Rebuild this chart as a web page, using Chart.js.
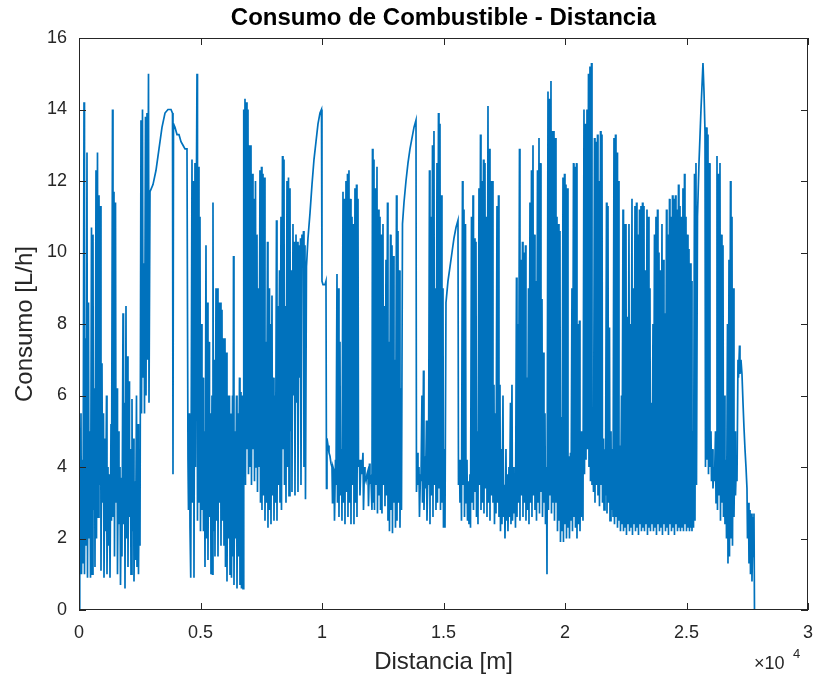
<!DOCTYPE html>
<html lang="es">
<head>
<meta charset="UTF-8">
<title>Consumo de Combustible - Distancia</title>
<script src="https://cdn.jsdelivr.net/npm/chart.js"></script>
<style>
  body { margin: 0; background: #fff; }
  #grafico { display: block; }
</style>
</head>
<body>
<canvas id="grafico" width="813" height="681"></canvas>
<script>
var dist1 = [0,21,41,82,103,144,165,206,226,267,
  288,329,350,391,412,453,473,514,535,576,
  597,638,658,700,720,761,782,823,844,885,
  905,946,967,1008,1029,1070,1090,1132,1152,1193,
  1214,1255,1276,1317,1337,1379,1399,1440,1461,1502,
  1523,1564,1584,1625,1646,1687,1708,1749,1769,1811,
  1831,1872,1893,1934,1955,1996,2016,2058,2078,2119,
  2140,2181,2202,2243,2263,2304,2325,2366,2387,2428,
  2448,2489,2510,2551,2572,2613,2634,2675,2695,2736,
  2757,2798,2819,2860,2881,2922,3045,3169,3292,3415,
  3539,3662,3786,3848,3868,3889,3950,4033,4115,4197,
  4280,4362,4444,4485];
var cons1 = [0,2.5,0.9,5.5,1.0,4.2,1.3,14.2,1.0,7.6,
  1.8,12.8,0.9,8.6,2.0,5.0,0.9,10.7,1.0,10.5,
  2.8,6.2,1.2,12.3,2.0,12.8,2.6,11.6,3.5,11.3,
  1.1,6.9,3.0,5.5,0.9,4.8,2.2,6.0,1.0,4.0,
  1.8,3.8,0.9,5.2,2.5,14.0,2.6,11.7,1.5,11.4,
  3.0,6.2,1.0,5.0,2.4,4.0,0.7,3.7,1.5,8.3,
  2.4,5.8,0.6,8.5,2.0,7.1,1.2,6.4,2.6,4.5,
  1.0,5.9,2.2,4.8,0.8,3.6,1.4,6.0,1.2,5.2,
  1.0,4.5,1.8,13.7,5.5,14.0,6.5,9.7,5.5,13.8,
  6.0,13.9,7.0,15.0,5.8,11.7,11.9,12.3,12.9,13.5,
  13.9,14.0,14.0,13.9,3.8,13.6,13.5,13.3,13.3,13.1,
  13.0,12.9,12.9,4.2];

var dist2 = [4506,4547,4568,4588,4609,4650,4671,4712,4732,4773,
  4794,4835,4856,4876,4917,4938,4979,5000,5041,5061,
  5103,5123,5164,5185,5226,5246,5288,5308,5350,5370,
  5411,5432,5473,5493,5514,5535,5576,5596,5638,5658,
  5699,5720,5761,5781,5823,5843,5884,5905,5946,5967,
  6008,6028,6070,6090,6131,6152,6193,6214,6255,6275,
  6317,6337,6358,6378,6419,6440,6481,6502,6543,6563,
  6605,6625,6666,6687,6728,6749,6769,6790,6831,6851,
  6893,6913,6954,6975,7016,7037,7078,7098,7140,7160,
  7201,7222,7263,7284,7325,7345,7387,7407,7448,7469,
  7510,7530,7572,7592,7633,7654,7695,7716,7757,7777,
  7819,7839,7880,7901,7942,7963,8004,8024,8065,8086,
  8127,8148,8189,8210,8251,8271,8312,8333,8374,8395,
  8436,8457,8498,8518,8559,8580,8621,8642,8683,8703,
  8745,8765,8806,8827,8868,8888,8930,8950,8991,9012,
  9053,9074,9115,9135,9176,9197,9238,9259,9300,9320,
  9361,9423,9506,9588,9670,9753,9835,9917,9979,9999,
  10041,10123,10164,10185,10205];
var cons2 = [2.8,5.5,2.3,4.8,0.9,12.6,3.0,12.0,0.9,12.5,
  4.0,12.3,15.0,2.5,12.4,3.0,11.0,2.2,8.0,2.8,
  6.5,2.2,5.0,1.2,10.2,2.0,8.6,1.4,7.5,2.6,
  5.5,1.0,6.0,1.0,11.4,2.2,7.0,1.5,9.0,2.5,
  9.0,1.5,8.6,3.0,8.6,1.8,8.4,2.5,7.6,1.8,
  7.6,1.2,7.2,0.8,6.0,2.0,6.0,1.0,5.5,0.9,
  6.0,1.5,9.9,0.7,5.0,2.0,6.0,0.6,5.5,1.5,
  6.5,0.7,6.1,0.6,6.0,0.6,14.0,4.0,14.3,3.5,
  14.2,4.5,14.0,3.8,13.0,4.0,13.0,3.5,12.2,4.5,
  11.5,3.6,12.0,4.0,10.5,3.3,9.0,4.0,12.3,3.0,
  12.4,2.8,12.2,3.2,12.1,2.5,7.5,3.0,10.3,2.3,
  9.0,2.8,8.0,2.4,8.8,3.2,6.5,2.5,6.0,3.0,
  10.9,2.5,8.5,3.5,9.5,3.0,11.0,2.8,12.7,4.5,
  12.6,3.5,8.5,3.0,12.0,4.0,12.1,3.2,11.8,5.0,
  9.5,3.3,10.8,6.0,10.3,3.2,10.5,5.8,10.3,3.3,
  10.2,6.5,10.4,3.5,10.5,9.9,10.6,4.0,10.2,3.1,
  9.6,10.4,11.1,11.9,12.6,13.1,13.6,13.9,14.0,9.2,
  9.1,9.1,9.2,3.4,4.8];

var dist3 = [10247,10288,10329,10370,10411,10432,10452,10493,10514,10555,
  10576,10617,10637,10679,10699,10740,10761,10802,10822,10864,
  10884,10925,10946,10987,11007,11049,11069,11110,11131,11172,
  11193,11234,11254,11296,11316,11357,11378,11419,11440,11481,
  11501,11542,11563,11604,11645,11686,11707,11748,11769,11810,
  11851,11892,11913,11954,11974,12016,12057,12077,12098,12139,
  12160,12201,12221,12263,12283,12324,12345,12386,12407,12448,
  12468,12510,12530,12571,12592,12633,12653,12695,12715,12756,
  12777,12818,12839,12880,12900,12942,12962,13003,13024,13065,
  13086,13127,13147,13189,13209,13250,13271,13312,13374,13456,
  13538,13621,13703,13785,13868,13888,13929,13950,13991,14011,
  14052,14073,14114,14135,14176,14197,14238,14258,14299,14320,
  14361,14382,14423,14444,14485,14505,14547,14567,14608,14629,
  14670,14690,14732,14752,14793,14814,14855,14876,14917,14937,
  14979,14999,15040,15061,15102,15184,15267,15349,15431,15514,
  15596];
var cons3 = [4.6,4.4,4.3,4.1,4.0,3.0,4.0,3.9,2.5,4.2,
  3.5,9.4,3.0,9.0,2.6,7.5,3.2,4.5,2.5,11.7,
  3.0,11.5,2.4,12.0,3.3,12.2,2.6,12.3,3.0,11.5,
  2.4,11.0,3.5,10.8,2.4,11.8,3.0,11.9,2.6,11.5,
  4.0,4.2,3.2,4.2,3.8,4.4,2.8,4.0,3.7,3.6,
  3.8,3.9,2.9,4.1,3.6,3.7,2.8,12.9,3.0,12.6,
  2.8,11.8,3.5,12.4,2.7,11.2,3.2,11.0,2.8,10.5,
  2.7,10.8,3.5,8.5,2.9,9.8,3.2,11.4,2.5,7.5,
  2.2,10.5,2.8,10.2,2.15,9.9,3.0,7.0,2.3,11.6,
  2.5,10.6,3.0,9.5,2.3,6.2,2.8,10.8,11.4,12.0,
  12.5,12.9,13.2,13.5,13.7,3.3,4.4,3.5,4.0,2.6,
  3.8,3.6,6.0,3.0,6.7,2.8,4.3,3.4,5.3,2.5,
  4.0,3.5,12.3,2.4,11.0,3.2,13.0,2.6,13.4,3.5,
  9.0,2.8,12.5,3.0,13.9,3.4,13.6,2.8,11.6,3.0,
  9.0,2.3,4.5,2.3,8.6,9.2,9.6,10.0,10.4,10.7,
  10.9];

var dist4 = [15617,15658,15678,15720,15740,15781,15802,15843,15864,15905,
  15926,15967,15987,16028,16049,16090,16111,16152,16172,16214,
  16234,16275,16296,16337,16358,16399,16419,16460,16481,16522,
  16543,16584,16604,16646,16666,16707,16728,16769,16790,16831,
  16851,16892,16913,16954,16975,17016,17036,17077,17098,17139,
  17160,17201,17221,17263,17283,17324,17345,17386,17406,17448,
  17468,17509,17530,17571,17592,17633,17653,17695,17715,17756,
  17777,17818,17839,17880,17900,17942,17962,18003,18024,18065,
  18086,18127,18147,18189,18209,18250,18271,18312,18333,18374,
  18394,18436,18456,18497,18518,18559,18580,18621,18641,18683,
  18703,18744,18765,18806,18827,18868,18888,18930,18950,18991,
  19012,19053,19074,19115,19135,19176,19197,19238,19259,19300,
  19320,19361,19382,19423,19444,19485,19505,19547,19567,19608,
  19629,19670,19691,19732,19752,19793,19814];
var cons4 = [3.5,4.2,3.0,4.0,2.5,12.0,3.5,11.2,2.6,10.8,
  3.0,4.2,2.5,3.6,2.4,3.8,2.3,11.0,3.0,11.6,
  2.8,10.4,3.3,10.3,2.6,5.0,2.4,11.8,3.5,13.3,
  2.8,12.0,3.0,12.6,2.7,12.5,3.4,11.0,2.6,14.1,
  3.0,12.9,2.5,12.0,3.2,12.0,3.0,6.3,2.4,5.5,
  2.7,11.3,3.0,11.6,2.6,6.3,2.2,4.5,2.4,6.0,
  2.6,3.5,2.0,4.5,2.5,3.8,2.2,4.0,2.6,5.8,
  2.4,6.3,2.5,4.0,2.7,3.5,2.3,9.3,2.6,8.0,
  3.0,12.9,2.5,9.8,3.2,10.3,2.6,10.0,3.0,10.2,
  2.5,6.5,2.8,9.0,2.4,11.4,3.0,12.3,2.6,13.0,
  3.2,10.5,2.8,9.2,2.5,12.3,3.0,13.2,2.7,12.5,
  3.3,8.7,2.6,7.2,3.0,5.5,2.4,4.0,1.0,14.5,
  2.8,14.3,3.2,14.8,2.7,13.4,3.0,13.4,2.5,13.2,
  3.0,11.0,2.2,10.8,2.5,10.6,1.9];

var dist5 = [19855,19876,19917,19937,19979,19999,20040,20061,20102,20123,
  20164,20184,20226,20246,20287,20308,20349,20370,20411,20431,
  20473,20493,20534,20555,20596,20617,20658,20678,20720,20740,
  20781,20802,20843,20864,20905,20925,20967,20987,21028,21049,
  21090,21111,21152,21172,21214,21234,21275,21296,21337,21358,
  21399,21419,21461,21481,21522,21543,21584,21605,21646,21666,
  21708,21728,21769,21790,21831,21852,21893,21913,21955,21975,
  22016,22037,22078,22098,22140,22160,22201,22222,22263,22284,
  22325,22345,22387,22407,22448,22469,22510,22530,22572,22592,
  22633,22654,22695,22715,22757,22777,22818,22839,22880,22901,
  22942,22962,23004,23024,23065,23086,23127,23147,23189,23209,
  23250,23271,23312,23332,23374,23394,23435,23456,23497,23518,
  23559,23579,23621,23641,23682,23703,23744,23765,23806,23826,
  23868,23888,23929,23950,23991,24011,24053,24073,24114,24135,
  24176,24197,24238,24258,24300,24320,24361,24382,24423,24444,
  24485,24505,24547,24567,24608,24629,24670,24690,24732,24752,
  24793,24814,24855,24876,24917,24937,24979,24999,25040,25061,
  25102,25123,25164,25184,25205,25226];
var cons5 = [5.4,2.2,12.1,1.9,12.2,2.4,11.9,2.0,11.8,2.3,
  4.3,2.0,4.4,2.5,9.0,2.2,12.5,2.6,12.4,2.3,
  12.5,2.0,8.0,2.4,8.1,2.2,5.0,2.6,5.0,2.5,
  14.0,3.8,13.6,4.2,14.0,4.5,15.0,4.0,15.2,3.6,
  15.3,3.5,4.5,3.3,13.2,3.0,13.1,3.5,13.3,3.2,
  12.0,2.9,13.4,3.5,13.3,3.0,4.8,2.8,4.5,3.2,
  11.4,2.7,11.3,3.0,7.9,2.5,5.0,2.8,4.5,2.6,
  13.2,2.4,13.3,2.6,12.8,2.3,12.0,2.5,4.6,2.2,
  6.0,2.4,11.2,2.2,10.8,2.3,10.8,2.1,8.2,2.4,
  10.8,2.2,8.0,2.3,11.5,2.1,9.0,2.4,11.3,2.2,
  11.4,2.3,10.5,2.1,11.2,2.4,11.3,2.2,11.4,2.3,
  11.3,2.2,9.5,2.4,11.2,2.1,11.0,2.3,9.0,2.2,
  5.8,2.4,8.0,2.2,10.5,2.3,11.0,2.1,11.2,2.4,
  10.0,2.2,9.5,2.3,10.8,2.1,9.8,2.4,8.3,2.2,
  11.2,2.3,10.5,2.1,11.5,2.4,11.0,2.2,11.6,2.3,
  11.5,2.1,11.6,2.4,11.2,2.2,11.9,2.3,11.3,2.2,
  11.0,2.3,11.8,2.2,12.2,2.4,11.0,2.2,10.5,2.3,
  10.1,2.2,9.7,2.3,9.2,2.2];

var dist6 = [25267,25288,25329,25349,25390,25411,25452,25514,25596,25678,
  25720,25761,25781,25823,25843,25884,25905,25946,25967,26008,
  26028,26070,26090,26131,26152,26193,26214,26255,26275,26317,
  26337,26378,26399,26440,26460,26502,26522,26563,26584,26625,
  26646,26687,26707,26749,26769,26810,26831,26872,26893,26934,
  26954,26996,27016,27057,27078,27119,27139,27181,27201,27242,
  27283,27325,27366,27407,27448,27489,27510,27551,27572,27613,
  27633,27674,27695,27736,27757,27777,27798];
var cons6 = [5.0,2.3,12.2,2.5,12.5,3.5,11.0,12.5,14.0,15.3,
  14.5,13.4,4.0,13.5,4.2,13.3,3.8,12.5,4.0,5.0,
  3.6,4.5,3.4,4.0,3.6,5.0,3.0,12.7,2.8,12.2,
  3.2,12.5,2.5,10.5,3.0,10.2,2.6,6.0,2.4,4.2,
  2.0,8.0,1.3,9.8,1.5,12.0,2.0,11.0,1.8,9.0,
  2.6,5.0,3.2,4.2,3.6,7.0,6.5,7.4,6.6,7.0,
  6.6,5.8,5.1,4.5,4.0,3.4,2.0,3.0,1.3,2.8,
  1.0,2.7,0.8,2.6,1.5,2.7,0];

var xTicks = [0, 5000, 10000, 15000, 20000, 25000, 30000];
var yTicks = [0, 2, 4, 6, 8, 10, 12, 14, 16];

var titulo = 'Consumo de Combustible - Distancia';
var fuente = '"Liberation Sans", Arial, Helvetica, sans-serif';
var gris = '#262626';

var tramos = [[dist1, cons1], [dist2, cons2], [dist3, cons3],
              [dist4, cons4], [dist5, cons5], [dist6, cons6]];
var puntos = [];
tramos.forEach(function (t) {
    t[0].forEach(function (d, i) { puntos.push({ x: d, y: t[1][i] }); });
});

// caja tipo matlab: marco completo, marcas hacia dentro, titulo centrado en los ejes y el x10^4
var marco = {
    id: 'marco',
    afterDraw: function (chart) {
        var ctx = chart.ctx, a = chart.chartArea;
        var sx = chart.scales.x, sy = chart.scales.y;
        var len = 7;
        ctx.save();
        ctx.strokeStyle = gris;
        ctx.lineWidth = 1;
        ctx.beginPath();
        xTicks.forEach(function (v) {
            var px = Math.round(sx.getPixelForValue(v)) + 0.5;
            ctx.moveTo(px, a.bottom); ctx.lineTo(px, a.bottom - len);
            ctx.moveTo(px, a.top); ctx.lineTo(px, a.top + len);
        });
        yTicks.forEach(function (v) {
            var py = Math.round(sy.getPixelForValue(v)) + 0.5;
            ctx.moveTo(a.left, py); ctx.lineTo(a.left + len, py);
            ctx.moveTo(a.right, py); ctx.lineTo(a.right - len, py);
        });
        ctx.stroke();
        ctx.strokeRect(Math.round(a.left) + 0.5, Math.round(a.top) + 0.5,
                       Math.round(a.width) - 1, Math.round(a.height) - 1);

        ctx.fillStyle = '#000';
        ctx.textAlign = 'center';
        ctx.textBaseline = 'middle';
        ctx.font = 'bold 24px ' + fuente;
        ctx.fillText(titulo, (a.left + a.right) / 2, 18);

        ctx.fillStyle = gris;
        ctx.textBaseline = 'alphabetic';
        ctx.textAlign = 'left';
        ctx.font = '18px ' + fuente;
        var base = a.bottom + 59;
        ctx.fillText('\u00d710', a.right - 54, base);
        ctx.font = '13px ' + fuente;
        ctx.fillText('4', a.right - 15, base - 11);
        ctx.restore();
    }
};

new Chart(document.getElementById('grafico'), {
    type: 'line',
    data: {
        datasets: [{
            data: puntos,
            borderColor: '#0072BD',
            borderWidth: 1.7,
            pointRadius: 0,
            tension: 0,
            fill: false
        }]
    },
    options: {
        responsive: false,
        animation: false,
        layout: { padding: { left: 0, right: 5, top: 38, bottom: 0 } },
        plugins: {
            legend: { display: false },
            tooltip: { enabled: false },
            title: { display: false }
        },
        scales: {
            x: {
                type: 'linear',
                min: 0,
                max: 30000,
                afterFit: function (s) {
                    s.height = 71;
                    s.paddingLeft = 0;
                    s.paddingRight = 0;
                },
                afterBuildTicks: function (s) {
                    s.ticks = xTicks.map(function (v) { return { value: v }; });
                },
                grid: { display: false },
                border: { display: false },
                ticks: {
                    autoSkip: false,
                    maxRotation: 0,
                    padding: 4,
                    color: gris,
                    font: { family: fuente, size: 18 },
                    callback: function (v) { return String(v / 10000); }
                },
                title: {
                    display: true,
                    text: 'Distancia [m]',
                    color: gris,
                    font: { family: fuente, size: 24 },
                    padding: { top: 0, bottom: 4.6 }
                }
            },
            y: {
                min: 0,
                max: 16,
                afterFit: function (s) {
                    s.width = 79;
                    s.paddingTop = 0;
                    s.paddingBottom = 0;
                },
                afterBuildTicks: function (s) {
                    s.ticks = yTicks.map(function (v) { return { value: v }; });
                },
                grid: { display: false },
                border: { display: false },
                ticks: {
                    padding: 4,
                    color: gris,
                    font: { family: fuente, size: 18 }
                },
                title: {
                    display: true,
                    text: 'Consumo [L/h]',
                    color: gris,
                    font: { family: fuente, size: 24 },
                    padding: { top: 10.6, bottom: 0 }
                }
            }
        }
    },
    plugins: [marco]
});
</script>
</body>
</html>
